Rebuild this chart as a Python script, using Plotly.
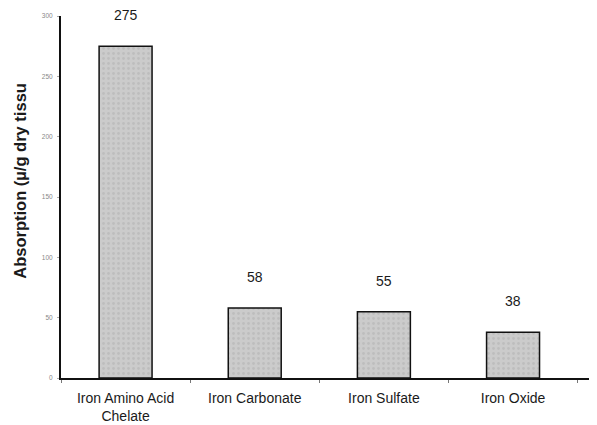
import plotly.graph_objects as go

categories = ["Iron Amino Acid<br>Chelate", "Iron Carbonate", "Iron Sulfate", "Iron Oxide"]
values = [275, 58, 55, 38]
value_labels = ["275", "58", "55", "38"]
y_ticks = [0, 50, 100, 150, 200, 250, 300]

FONT = "Liberation Sans, Arial, sans-serif"

fig = go.Figure()
fig.add_trace(go.Bar(
    x=categories, y=values, width=0.41,
    marker=dict(color="#c8c8c8", line=dict(color="#111111", width=1.5),
                pattern=dict(shape=".", fgcolor="#b0b0b0", bgcolor="#cbcbcb", size=5, solidity=0.25)),
    hoverinfo="skip",
))

for c, v, t in zip(categories, values, value_labels):
    fig.add_annotation(x=c, y=v, text=t, showarrow=False, yshift=31,
                       font=dict(family=FONT, size=14, color="#1a1a1a"))

fig.add_annotation(xref="paper", yref="paper", x=0, y=0.545, xshift=-41, xanchor="center",
                   yanchor="middle",
                   text="<b>Absorption (µ/g dry tissu</b>", textangle=-90, showarrow=False,
                   font=dict(family=FONT, size=16.5, color="#1a1a1a"))

fig.update_layout(
    width=589, height=417,
    margin=dict(l=53, r=0, t=8, b=47),
    paper_bgcolor="white", plot_bgcolor="white",
    showlegend=False,
    xaxis=dict(range=[-0.5, 3.65], showline=True, linecolor="#111", linewidth=2,
               tickson="boundaries", ticks="outside", ticklen=3, tickcolor="#777",
               ticklabelstandoff=6,
               tickfont=dict(family=FONT, size=14, color="#1a1a1a"),
               showgrid=False, zeroline=False),
    yaxis=dict(range=[0, 300], tickvals=y_ticks, showline=True, linecolor="#111", linewidth=2,
               ticks="outside", ticklen=2, tickcolor="#aaa", ticklabelstandoff=3,
               tickfont=dict(family=FONT, size=6.5, color="#888"),
               showgrid=False, zeroline=False),
)

fig.write_html("out.html")
